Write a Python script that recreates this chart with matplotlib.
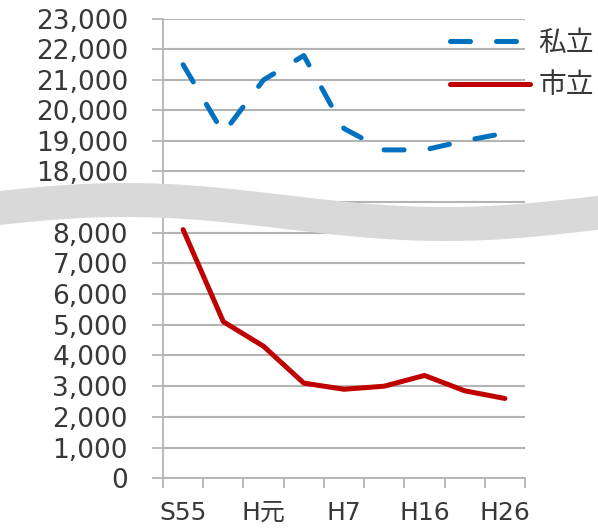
import matplotlib.pyplot as plt
import numpy as np
from matplotlib.ticker import FuncFormatter

plt.rcParams['font.family'] = ['DejaVu Sans', 'Noto Sans CJK JP']

# 年度 (ラベルは1つおきに表示)
years = ["S55", "", "H元", "", "H7", "", "H16", "", "H26"]
# 私立・市立の値
private_vals = [21500, 19250, 21000, 21800, 19400, 18700, 18700, 19000, 19250]
city_vals = [8100, 5100, 4300, 3100, 2900, 3000, 3350, 2850, 2600]
# 軸の目盛
upper_ticks = [18000, 19000, 20000, 21000, 22000, 23000]
lower_ticks = [0, 1000, 2000, 3000, 4000, 5000, 6000, 7000, 8000]

W, H = 598, 528
grid_c = '#b4b4b4'
text_c = '#383838'
blue = '#0070c0'
red = '#c00000'

fig = plt.figure(figsize=(W / 100, H / 100), dpi=100)
fig.patch.set_facecolor('white')

def px_axes(left, top, right, bottom):
    # ピクセル座標で軸を配置
    return fig.add_axes([left / W, 1 - bottom / H, (right - left) / W, (bottom - top) / H])

ax_top = px_axes(163, 19, 525, 204.7)
ax_low = px_axes(163, 208.1, 525, 478.3)

x = np.arange(len(years)) + 0.5
fmt = FuncFormatter(lambda v, p: f"{int(v):,}")

for ax in (ax_top, ax_low):
    ax.set_facecolor('none')
    ax.set_xlim(0, len(years))
    for s in ('top', 'right'):
        ax.spines[s].set_visible(False)
    ax.spines['left'].set_color(grid_c)
    ax.spines['left'].set_linewidth(1.3)
    ax.yaxis.set_major_formatter(fmt)
    ax.tick_params(axis='y', length=8.2, width=1.3, color=grid_c, pad=17,
                   labelsize=19, labelcolor=text_c)
    ax.grid(axis='y', color=grid_c, linewidth=1.5)
    ax.set_axisbelow(True)

# 上段 (私立)
ax_top.set_ylim(16900, 23000)
ax_top.set_yticks(upper_ticks)
ax_top.axhline(17000, color=grid_c, linewidth=1.5, zorder=0.5)
ax_top.spines['bottom'].set_visible(False)
ax_top.set_xticks([])
ln_p, = ax_top.plot(x, private_vals, color=blue, linewidth=3.6,
                    linestyle=(0, (4, 5.2)), dash_capstyle='round',
                    solid_capstyle='round', label='私立')

# 下段 (市立)
ax_low.set_ylim(0, 8800)
ax_low.set_yticks(lower_ticks)
ax_low.spines['bottom'].set_color(grid_c)
ax_low.spines['bottom'].set_linewidth(1.3)
ax_low.set_xticks(np.arange(len(years) + 1))
ax_low.set_xticklabels([])
ax_low.set_xticks(x, years, minor=True)
ax_low.tick_params(axis='x', which='major', length=7.5, width=1.3, color=grid_c)
ax_low.tick_params(axis='x', which='minor', length=0, pad=16,
                   labelsize=18, labelcolor=text_c)
ln_c, = ax_low.plot(x, city_vals, color=red, linewidth=3.6,
                    solid_capstyle='round', solid_joinstyle='round', label='市立')

ax_top.legend([ln_p, ln_c], ['私立', '市立'], loc='upper left',
              bbox_to_anchor=(450 / W, 1 - 29 / H), bbox_transform=fig.transFigure,
              frameon=False, fontsize=20, handlelength=2.88, handletextpad=0.3,
              labelspacing=0.52, borderpad=0, borderaxespad=0, labelcolor=text_c)

# 省略部分の波線
ov = fig.add_axes([0, 0, 1, 1])
ov.set_xlim(0, W)
ov.set_ylim(H, 0)
ov.axis('off')
xs = np.linspace(0, W, 300)
mid = 212 - 12 * np.cos(2 * np.pi * (xs - 125) / 640)
ov.fill_between(xs, mid - 17, mid + 17, color='#d9d9d9', linewidth=0)

fig.savefig('out.png', dpi=100)
